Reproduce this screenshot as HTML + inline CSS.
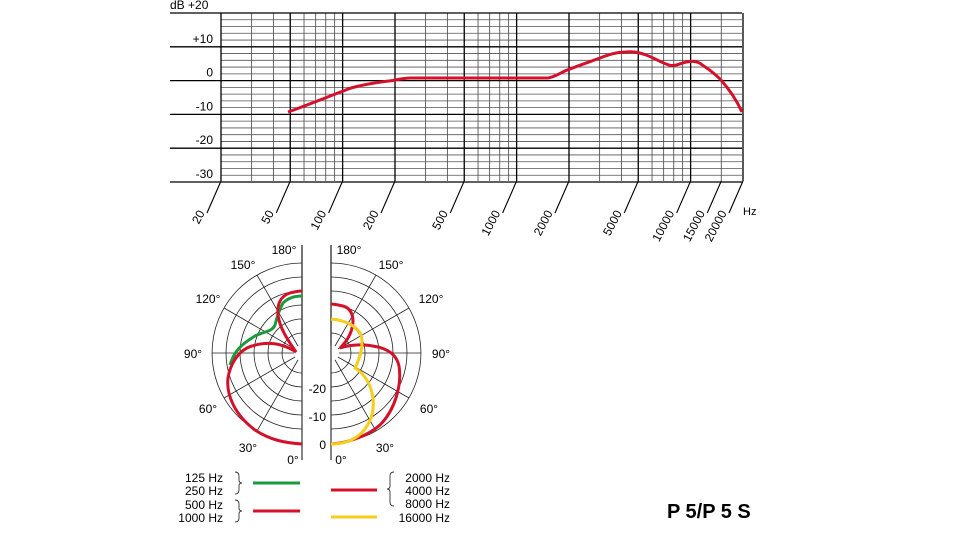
<!DOCTYPE html>
<html><head><meta charset="utf-8"><style>
html,body{margin:0;padding:0;background:#fff;}
svg{display:block;font-family:"Liberation Sans",sans-serif;}
</style></head><body>
<svg width="967" height="533" viewBox="0 0 967 533" xmlns="http://www.w3.org/2000/svg">
<g id="grid"></g>
<script>
(function(){
var NS="http://www.w3.org/2000/svg";
var svg=document.querySelector("svg");
function el(t,a,p){var e=document.createElementNS(NS,t);for(var k in a)e.setAttribute(k,a[k]);(p||svg).appendChild(e);return e;}
function X(f){return 221+174*Math.log10(f/20);}
function Y(d){return 13+(20-d)*3.38;}
// minor horizontal
for(var d=18;d>-30;d-=2){if(d%10==0)continue;el("line",{x1:221,x2:742,y1:Y(d),y2:Y(d),stroke:"#555","stroke-width":0.8});}
// minor vertical
var minors=[30,40,60,70,80,90,300,400,600,700,800,900,3000,4000,6000,7000,8000,9000,15000];
minors.forEach(function(f){el("line",{x1:X(f),x2:X(f),y1:13,y2:181,stroke:"#444","stroke-width":0.8});});
var majors=[20,50,100,200,500,1000,2000,5000,10000,20000];
majors.forEach(function(f){var x=X(f);el("line",{x1:x,x2:x,y1:13,y2:181,stroke:"#000","stroke-width":1.3});
el("line",{x1:x,y1:181,x2:x-14,y2:213,stroke:"#000","stroke-width":1.1});});
var x15=X(15000);el("line",{x1:x15,y1:181,x2:x15-14,y2:213,stroke:"#000","stroke-width":1.1});
for(var d=20;d>=-30;d-=10){el("line",{x1:170,x2:742,y1:Y(d),y2:Y(d),stroke:"#000","stroke-width":1.3});}
var labs=[["+10",10],["0",0],["-10",-10],["-20",-20],["-30",-30]];
labs.forEach(function(l){var t=el("text",{x:213,y:Y(l[1])-4,"text-anchor":"end","font-size":12});t.textContent=l[0];});
var t=el("text",{x:170,y:9,"font-size":12});t.textContent="dB  +20";
var fl=[[20,"20"],[50,"50"],[100,"100"],[200,"200"],[500,"500"],[1000,"1000"],[2000,"2000"],[5000,"5000"],[10000,"10000"],[15000,"15000"],[20000,"20000"]];
fl.forEach(function(l){var x=X(l[0])-14,y=213;var t=el("text",{x:x-2,y:y,"text-anchor":"end","font-size":12,transform:"rotate(-62 "+(x-2)+" "+y+")"});t.textContent=l[1];});
t=el("text",{x:743,y:215,"font-size":11});t.textContent="Hz";
// curve
el("path",{d:"M288,112 C300,108 330,96 351,88 C365,84 380,82 393,80.5 C400,79 405,78 411,78 L548,78 C555,77 560,73 566,70.5 C580,65 592,61 600,58 C610,54 618,52 625,52 C635,51 640,53 646,55 C655,58 663,64 671,65.5 C678,66 682,62 690,61.5 C697,61 700,63 703,65.5 C710,70 716,75 720,79 C730,90 737,101 742,112",fill:"none",stroke:"#d4112a","stroke-width":3});
// polar
function polar(cx,side){var g=el("g",{});
for(var k=0;k<7;k++){var r=90-k*14;if(r<=0)continue;
var sw=side<0?1:0;
el("path",{d:"M"+cx+","+(353-r)+" A"+r+","+r+" 0 0 "+(side<0?0:1)+" "+cx+","+(353+r),fill:"none",stroke:"#222","stroke-width":0.8},g);}
for(var a=30;a<=150;a+=30){var rad=a*Math.PI/180;el("line",{x1:cx,y1:353,x2:cx+side*90*Math.sin(rad),y2:353+90*Math.cos(rad),stroke:"#222","stroke-width":0.8},g);}
el("circle",{cx:cx,cy:353,r:8,fill:"#fff"},g);
}
polar(302,-1);polar(331,1);
el("line",{x1:302,y1:245,x2:302,y2:460,stroke:"#333","stroke-width":1.2});
el("line",{x1:331,y1:245,x2:331,y2:460,stroke:"#333","stroke-width":1.2});
el("rect",{x:303,y:240,width:27,height:110,fill:"#fff"});
el("rect",{x:303,y:240,width:27,height:0,fill:"#fff"});
el("line",{x1:331,y1:245,x2:331,y2:345,stroke:"#333","stroke-width":1.2});
el("line",{x1:302,y1:245,x2:302,y2:345,stroke:"#333","stroke-width":1.2});
el("rect",{x:309,y:380,width:20,height:70,fill:"#fff"});
// curves
el("path",{d:"M230,365 C234,352 240,345 255,336 C265,331 272,332 275,325 C277,318 278,312 283,303 C287,299 293,296 302,296",fill:"none",stroke:"#1a9a3c","stroke-width":3});
el("path",{d:"M302,444 C285,443 270,440 255,430 C235,415 226,395 228,378 C230,365 238,350 252,346 C268,341 282,343 296,352 C290,343 280,330 278,315 C277,305 280,296 290,293 C294,292 298,291 302,291",fill:"none",stroke:"#d4112a","stroke-width":3});
el("path",{d:"M331,444 C345,443 365,438 380,425 C395,410 402,385 399,366 C397,356 390,350 378,347 C365,344 352,344 340,348 C345,343 352,335 353,322 C353,314 350,308 343,306 C338,305 334,304 331,304",fill:"none",stroke:"#d4112a","stroke-width":3});
el("path",{d:"M331,319 C345,320 357,326 361,335 C364,345 360,358 355,368 C365,374 371,385 373,398 C375,415 368,428 358,436 C350,442 340,444 331,444",fill:"none",stroke:"#f5cd1a","stroke-width":3});
function tx(x,y,s,anc,fs,w){var t=el("text",{x:x,y:y,"text-anchor":anc||"middle","font-size":fs||12,"font-weight":w||"normal"});t.textContent=s;}
tx(284,254,"180°");tx(243,269,"150°");tx(208,303,"120°");tx(193,358,"90°");tx(208,413,"60°");tx(248,452,"30°");tx(293,464,"0°");
tx(349,254,"180°");tx(391,269,"150°");tx(431,303,"120°");tx(441,358,"90°");tx(429,413,"60°");tx(385,452,"30°");tx(341,464,"0°");
tx(326,393,"-20","end");tx(326,421,"-10","end");tx(326,449,"0","end");
// legend
tx(223,482,"125 Hz","end");tx(223,495,"250 Hz","end");tx(223,509,"500 Hz","end");tx(223,522,"1000 Hz","end");
tx(450,482,"2000 Hz","end");tx(450,495,"4000 Hz","end");tx(450,508,"8000 Hz","end");tx(450,522,"16000 Hz","end");
el("path",{d:"M235,472 q4,0 4,4 v4 q0,3 3,3 q-3,0 -3,3 v4 q0,4 -4,4",fill:"none",stroke:"#333","stroke-width":0.9});
el("path",{d:"M235,500 q4,0 4,4 v4 q0,3 3,3 q-3,0 -3,3 v4 q0,4 -4,4",fill:"none",stroke:"#333","stroke-width":0.9});
el("path",{d:"M394,472 q-4,0 -4,4 v10 q0,3 -3,3 q3,0 3,3 v10 q0,4 4,4",fill:"none",stroke:"#333","stroke-width":0.9});
el("line",{x1:253,x2:300,y1:483,y2:483,stroke:"#1a9a3c","stroke-width":3});
el("line",{x1:253,x2:300,y1:511,y2:511,stroke:"#d4112a","stroke-width":3});
el("line",{x1:331,x2:377,y1:490,y2:490,stroke:"#d4112a","stroke-width":3});
el("line",{x1:331,x2:377,y1:517,y2:517,stroke:"#f5cd1a","stroke-width":3});
tx(667,518,"P 5/P 5 S","start",20,"bold");
})();
</script>
</svg>
</body></html>
